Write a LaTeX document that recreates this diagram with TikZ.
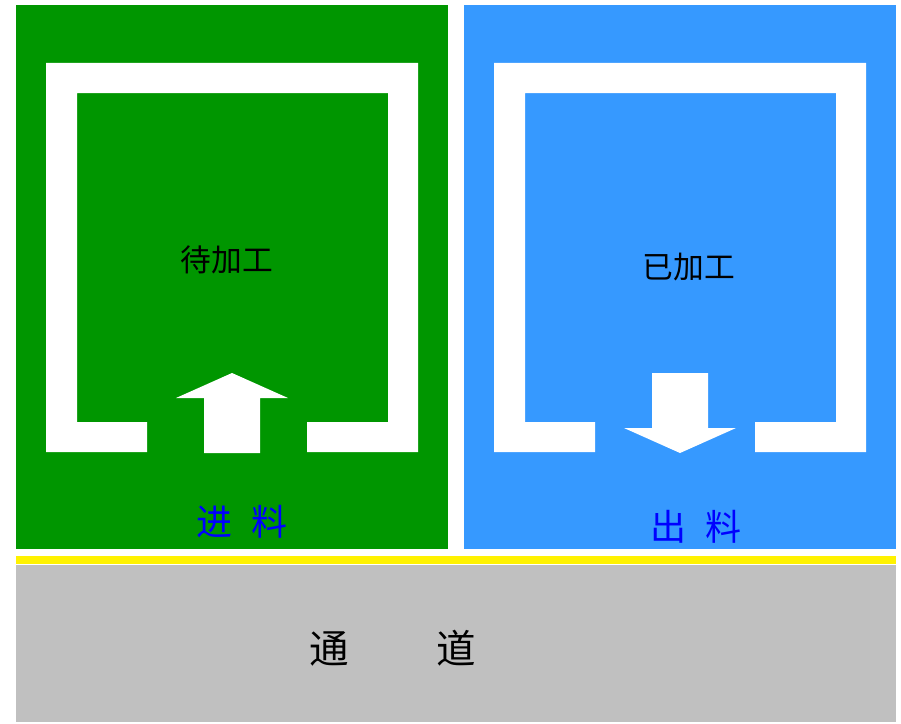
\documentclass[tikz,border=0pt]{standalone}
\usepackage{fontspec}
\newfontfamily\cjk{Noto Sans CJK SC}
\usetikzlibrary{positioning}
\definecolor{zonegreen}{RGB}{0,150,0}
\definecolor{zoneblue}{RGB}{54,153,255}
\definecolor{aislegray}{RGB}{192,192,192}

\begin{document}
\begin{tikzpicture}[x=0.02cm, y=-0.02cm,
    label/.style={inner sep=0pt, font=\cjk}]
    \useasboundingbox (0,0) rectangle (901,723);

    % Zones
    \fill[zonegreen] (16,5) rectangle (448,549);
    \fill[zoneblue] (464,5) rectangle (896,549);
    \fill[yellow] (16,556) rectangle (896,564);
    \fill[aislegray] (16,565) rectangle (896,722);

    % Frames
    \fill[white] (147,452) -- (46,452) -- (46,63) -- (418,63) -- (418,452) -- (307,452)
        -- (307,422) -- (388,422) -- (388,93) -- (77,93) -- (77,422) -- (147,422) -- cycle;
    \fill[white] (595,452) -- (494,452) -- (494,63) -- (866,63) -- (866,452) -- (755,452)
        -- (755,422) -- (836,422) -- (836,93) -- (525,93) -- (525,422) -- (595,422) -- cycle;

    % Arrows
    \fill[white] (204,453) -- (204,398) -- (176,398) -- (232,373) -- (288,398)
        -- (260,398) -- (260,453) -- cycle;
    \fill[white] (652,373) -- (708,373) -- (708,428) -- (736,428) -- (680,453)
        -- (624,428) -- (652,428) -- cycle;

    % Labels
    \node[label, font=\cjk\fontsize{17.5}{20}\selectfont] (todo) at (227,260) {待加工};
    \node[label, font=\cjk\fontsize{17.5}{20}\selectfont] (done) at (689,267) {已加工};
    \node[label, font=\cjk\fontsize{20.5}{24}\selectfont, text=blue] (feed) at (242,522) {进\hspace{0.5em}料};
    \node[label, font=\cjk\fontsize{20.5}{24}\selectfont, text=blue] (out) at (696,527) {出\hspace{0.5em}料};
    \node[label, font=\cjk\fontsize{22.5}{26}\selectfont] (aisle) at (393,648) {通\hspace{2.2em}道};

\end{tikzpicture}
\end{document}
